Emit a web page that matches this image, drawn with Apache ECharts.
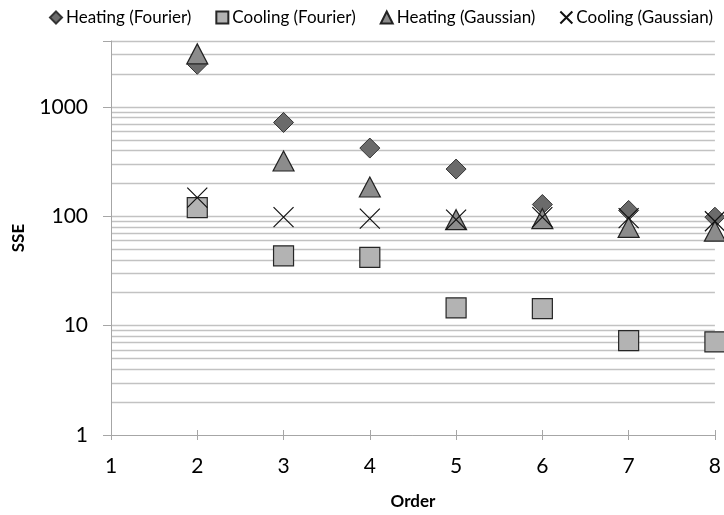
<!DOCTYPE html>
<html><head><meta charset="utf-8">
<script src="https://cdn.jsdelivr.net/npm/echarts@6/dist/echarts.min.js"></script>
<style>html,body{margin:0;padding:0;background:#fff}#c{width:724px;height:515px}</style>
</head><body><div id="c"></div>
<script>
const orders = [2, 3, 4, 5, 6, 7, 8];
const heatingFourier = [2450, 720, 420, 270, 128, 113, 98];
const coolingFourier = [120, 43.5, 42, 14.5, 14.3, 7.3, 7.1];
const heatingGaussian = [3050, 320, 185, 93, 95, 79, 73];
const coolingGaussian = [148, 98, 95, 93, 98, 96, 90];
const yTickLabels = [1, 10, 100, 1000];
const xTickLabels = [1, 2, 3, 4, 5, 6, 7, 8];
const gridValues = [2, 3, 4, 5, 6, 7, 8, 9, 10, 20, 30, 40, 50, 60, 70, 80, 90, 100,
  200, 300, 400, 500, 600, 700, 800, 900, 1000, 2000, 3000, 4000];

const FONT = 'Lato';
const pair = arr => orders.map((o, i) => [o, arr[i]]);
const xPath = 'path://M0,0L10,10M10,0L0,10';

const chart = echarts.init(document.getElementById('c'), null, {renderer: 'canvas'});
chart.setOption({
  animation: false,
  textStyle: {fontFamily: FONT},
  legend: {
    top: 4, left: 44, itemGap: 24, itemWidth: 12, itemHeight: 12,
    textStyle: {fontFamily: FONT, fontSize: 17, color: '#000', padding: [0, 0, 0, -1]},
    data: [
      {name: 'Heating (Fourier)'}, {name: 'Cooling (Fourier)'},
      {name: 'Heating (Gaussian)'}, {name: 'Cooling (Gaussian)'}
    ]
  },
  grid: {left: 111, right: 8, top: 41, bottom: 75, containLabel: false},
  xAxis: [{
    type: 'value', min: 1, max: 8, interval: 1,
    name: 'Order', nameLocation: 'middle', nameGap: 58,
    nameTextStyle: {fontFamily: FONT, fontSize: 17, fontWeight: 'bold', color: '#000'},
    axisLine: {lineStyle: {color: '#a6a6a6', width: 1}},
    axisTick: {show: true, length: 5, lineStyle: {color: '#a6a6a6'}},
    axisLabel: {fontFamily: FONT, fontSize: 21, color: '#000', margin: 21,
      formatter: v => xTickLabels.includes(v) ? String(v) : ''},
    splitLine: {show: false}
  }, {
    type: 'value', min: 1, max: 8, interval: 1, position: 'bottom',
    axisLine: {show: false},
    axisTick: {show: true, inside: true, length: 5, lineStyle: {color: '#a6a6a6'}},
    axisLabel: {show: false}, splitLine: {show: false}
  }],
  yAxis: {
    type: 'log', logBase: 10, min: 1, max: 4000,
    name: 'SSE', nameLocation: 'middle', nameGap: 84, nameRotate: 90,
    nameTextStyle: {fontFamily: FONT, fontSize: 17, fontWeight: 'bold', color: '#000'},
    axisLine: {show: true, lineStyle: {color: '#a6a6a6', width: 1}},
    axisTick: {show: true, length: 8, lineStyle: {color: '#a6a6a6'}},
    axisLabel: {fontFamily: FONT, fontSize: 21, color: '#000', margin: 23,
      formatter: v => yTickLabels.includes(Math.round(v)) && Math.abs(v - Math.round(v)) < 1e-6 ? String(Math.round(v)) : ''},
    splitLine: {show: false},
    minorTick: {show: false}
  },
  series: [
    {
      name: 'grid', type: 'line', data: [], z: 0, silent: true,
      markLine: {
        silent: true, symbol: 'none', animation: false, z: 0,
        label: {show: false},
        lineStyle: {color: '#c2c2c2', width: 1.3, type: 'solid'},
        data: gridValues.map(v => ({yAxis: v}))
      }
    },
    {
      name: 'Heating (Fourier)', type: 'scatter', z: 10, data: pair(heatingFourier),
      symbol: 'diamond', symbolSize: [20, 20],
      itemStyle: {color: '#6b6b6b', borderColor: '#333', borderWidth: 1, opacity: 1}
    },
    {
      name: 'Cooling (Fourier)', type: 'scatter', z: 11, data: pair(coolingFourier),
      symbol: 'rect', symbolSize: [20, 20],
      itemStyle: {color: '#b3b3b3', borderColor: '#262626', borderWidth: 1.2, opacity: 1}
    },
    {
      name: 'Heating (Gaussian)', type: 'scatter', z: 12, data: pair(heatingGaussian),
      symbol: 'triangle', symbolSize: [21, 20],
      itemStyle: {color: '#8c8c8c', borderColor: '#222', borderWidth: 1.2, opacity: 1}
    },
    {
      name: 'Cooling (Gaussian)', type: 'scatter', z: 13, data: pair(coolingGaussian),
      symbol: xPath, symbolSize: [20, 20],
      itemStyle: {color: 'rgba(0,0,0,0)', borderColor: '#111', borderWidth: 1.2, opacity: 1}
    }
  ]
});
</script></body></html>
